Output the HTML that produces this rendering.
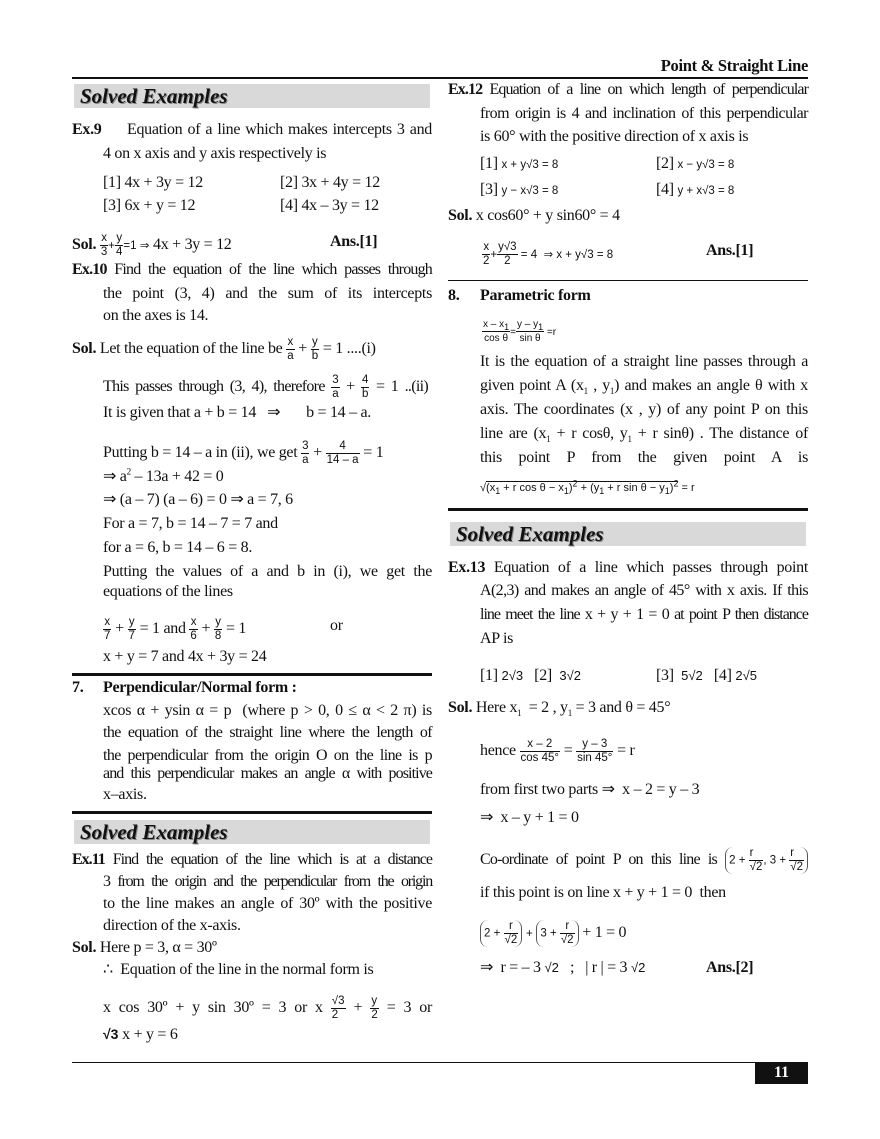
<!DOCTYPE html>
<html><head><meta charset="utf-8"><style>
body{margin:0;background:#fff;}
#p{position:relative;width:880px;height:1139px;overflow:hidden;font-family:"Liberation Serif",serif;color:#111;}
.t{position:absolute;white-space:nowrap;font-size:16px;line-height:20px;letter-spacing:-0.3px;}
.j{white-space:normal;text-align:justify;text-align-last:justify;height:20px;overflow:visible;}
.b{font-weight:bold;}
.s{font-family:"Liberation Sans",sans-serif;font-size:11.5px;letter-spacing:0;}
.f{display:inline-block;vertical-align:middle;text-align:center;font-family:"Liberation Sans",sans-serif;font-size:11.5px;line-height:13px;letter-spacing:0;}
.f>span{display:block;padding:0 1px;}
.f>span:first-child{border-bottom:1px solid #111;}
.ln{position:absolute;background:#111;}
.ban{position:absolute;background:#d9d9d9;height:24px;font-weight:bold;font-style:italic;font-size:21px;line-height:24px;padding-left:6px;box-sizing:border-box;text-shadow:1px 1px 0 #888;}
.par{display:inline-block;vertical-align:middle;border:1px solid #555;border-top:none;border-bottom:none;border-radius:8px;padding:0 3px;}
sub,sup{font-size:9px;line-height:0;}
</style></head><body><div id="p">
<div class="t b" style="left:640px;top:56px;width:168px;text-align:right;font-size:16.5px">Point &amp; Straight Line</div>
<div class="ln" style="left:72px;top:77px;width:736px;height:2px"></div>

<div class="ban" style="left:74px;top:84px;width:356px">Solved Examples</div>
<div class="t" style="left:72px;top:120px"><b>Ex.9</b></div>
<div class="t j" style="left:127px;top:120px;width:305px">Equation of a line which makes intercepts 3 and</div>
<div class="t" style="left:103px;top:144px">4 on x axis and y axis respectively is</div>
<div class="t" style="left:103px;top:173px">[1] 4x + 3y = 12</div>
<div class="t" style="left:280px;top:173px">[2] 3x + 4y = 12</div>
<div class="t" style="left:103px;top:196px">[3] 6x + y = 12</div>
<div class="t" style="left:280px;top:196px">[4] 4x – 3y = 12</div>
<div class="t" style="left:72px;top:232px"><b>Sol.</b> <span class="f"><span>x</span><span>3</span></span><span class="s">+</span><span class="f"><span>y</span><span>4</span></span><span class="s">=1 ⇒</span> 4x + 3y = 12</div>
<div class="t b" style="left:330px;top:232px">Ans.[1]</div>
<div class="t j" style="left:72px;top:260px;width:360px;letter-spacing:-0.8px"><b>Ex.10</b> Find the equation of the line which passes through</div>
<div class="t j" style="left:103px;top:284px;width:329px">the point (3, 4) and the sum of its intercepts</div>
<div class="t" style="left:103px;top:306px">on the axes is 14.</div>
<div class="t" style="left:72px;top:336px"><b>Sol.</b> Let the equation of the line be <span class="f"><span>x</span><span>a</span></span> + <span class="f"><span>y</span><span>b</span></span> = 1 ....(i)</div>
<div class="t j" style="left:103px;top:374px;width:325px;letter-spacing:-0.7px">This passes through (3, 4), therefore <span class="f"><span>3</span><span>a</span></span> + <span class="f"><span>4</span><span>b</span></span> = 1 ..(ii)</div>
<div class="t" style="left:103px;top:403px">It is given that a + b = 14 &nbsp;&nbsp;⇒ &nbsp;&nbsp;&nbsp;&nbsp;&nbsp;&nbsp;b = 14 – a.</div>
<div class="t" style="left:103px;top:440px">Putting b = 14 – a in (ii), we get <span class="f"><span>3</span><span>a</span></span> + <span class="f"><span>&nbsp;&nbsp;4&nbsp;&nbsp;</span><span>14 – a</span></span> = 1</div>
<div class="t" style="left:103px;top:467px">⇒ a<sup>2</sup> – 13a + 42 = 0</div>
<div class="t" style="left:103px;top:490px">⇒ (a – 7) (a – 6) = 0 ⇒ a = 7, 6</div>
<div class="t" style="left:103px;top:514px">For a = 7, b = 14 – 7 = 7 and</div>
<div class="t" style="left:103px;top:538px">for a = 6, b = 14 – 6 = 8.</div>
<div class="t j" style="left:103px;top:562px;width:329px">Putting the values of a and b in (i), we get the</div>
<div class="t" style="left:103px;top:582px">equations of the lines</div>
<div class="t" style="left:103px;top:616px"><span class="f"><span>x</span><span>7</span></span> + <span class="f"><span>y</span><span>7</span></span> = 1 and <span class="f"><span>x</span><span>6</span></span> + <span class="f"><span>y</span><span>8</span></span> = 1</div>
<div class="t" style="left:330px;top:616px">or</div>
<div class="t" style="left:103px;top:647px">x + y = 7 and 4x + 3y = 24</div>
<div class="ln" style="left:72px;top:673px;width:360px;height:3px"></div>
<div class="t b" style="left:72px;top:678px">7.</div>
<div class="t b" style="left:103px;top:678px">Perpendicular/Normal form :</div>
<div class="t j" style="left:103px;top:701px;width:329px">xcos α + ysin α = p &nbsp;(where p &gt; 0, 0 ≤ α &lt; 2 π) is</div>
<div class="t j" style="left:103px;top:723px;width:329px;letter-spacing:-0.6px">the equation of the straight line where the length of</div>
<div class="t j" style="left:103px;top:746px;width:329px;letter-spacing:-0.6px">the perpendicular from the origin O on the line is p</div>
<div class="t j" style="left:103px;top:764px;width:329px;letter-spacing:-0.9px">and this perpendicular makes an angle α with positive</div>
<div class="t" style="left:103px;top:785px">x–axis.</div>
<div class="ln" style="left:72px;top:811px;width:360px;height:3px"></div>
<div class="ban" style="left:74px;top:820px;width:356px">Solved Examples</div>
<div class="t j" style="left:72px;top:850px;width:360px;letter-spacing:-1px"><b>Ex.11</b> Find the equation of the line which is at a distance</div>
<div class="t j" style="left:103px;top:872px;width:329px;letter-spacing:-1.2px">3 from the origin and the perpendicular from the origin</div>
<div class="t j" style="left:103px;top:894px;width:329px">to the line makes an angle of 30º with the positive</div>
<div class="t" style="left:103px;top:916px">direction of the x-axis.</div>
<div class="t" style="left:72px;top:938px"><b>Sol.</b> Here p = 3, α = 30º</div>
<div class="t" style="left:103px;top:960px">∴ &nbsp;Equation of the line in the normal form is</div>
<div class="t j" style="left:103px;top:995px;width:329px">x cos 30º + y sin 30º = 3 or x <span class="f"><span>√3</span><span>2</span></span> + <span class="f"><span>y</span><span>2</span></span> = 3 or</div>
<div class="t" style="left:103px;top:1024px"><b class="s" style="font-size:14px">√3</b> x + y = 6</div>

<div class="t j" style="left:448px;top:80px;width:360px;letter-spacing:-0.9px"><b>Ex.12</b> Equation of a line on which length of perpendicular</div>
<div class="t j" style="left:480px;top:104px;width:328px;letter-spacing:-0.5px">from origin is 4 and inclination of this perpendicular</div>
<div class="t" style="left:480px;top:127px">is 60° with the positive direction of x axis is</div>
<div class="t" style="left:480px;top:154px">[1] <span class="s">x + y√3 = 8</span></div>
<div class="t" style="left:656px;top:154px">[2] <span class="s">x − y√3 = 8</span></div>
<div class="t" style="left:480px;top:180px">[3] <span class="s">y − x√3 = 8</span></div>
<div class="t" style="left:656px;top:180px">[4] <span class="s">y + x√3 = 8</span></div>
<div class="t" style="left:448px;top:206px"><b>Sol.</b> x cos60° + y sin60° = 4</div>
<div class="t" style="left:482px;top:241px"><span class="f"><span>x</span><span>2</span></span><span class="s">+</span><span class="f"><span>y√3</span><span>2</span></span><span class="s"> = 4 &nbsp;⇒ x + y√3 = 8</span></div>
<div class="t b" style="left:706px;top:241px">Ans.[1]</div>
<div class="ln" style="left:448px;top:280px;width:360px;height:1px"></div>
<div class="t b" style="left:448px;top:286px">8.</div>
<div class="t b" style="left:480px;top:286px">Parametric form</div>
<div class="t" style="left:482px;top:318px"><span class="f" style="font-size:10px"><span>x – x<sub>1</sub></span><span>cos θ</span></span><span class="s" style="font-size:10px">=</span><span class="f" style="font-size:10px"><span>y – y<sub>1</sub></span><span>sin θ</span></span><span class="s" style="font-size:10px"> =r</span></div>
<div class="t j" style="left:480px;top:352px;width:328px">It is the equation of a straight line passes through a</div>
<div class="t j" style="left:480px;top:376px;width:328px">given point A (x<sub>1</sub> , y<sub>1</sub>) and makes an angle θ with x</div>
<div class="t j" style="left:480px;top:400px;width:328px">axis. The coordinates (x , y) of any point P on this</div>
<div class="t j" style="left:480px;top:424px;width:328px">line are (x<sub>1</sub> + r cosθ, y<sub>1</sub> + r sinθ) . The distance of</div>
<div class="t j" style="left:480px;top:448px;width:328px">this point P from the given point A is</div>
<div class="t s" style="left:480px;top:478px;font-size:11px">√<span style="border-top:1px solid #111">(x<sub>1</sub> + r cos θ − x<sub>1</sub>)<sup>2</sup> + (y<sub>1</sub> + r sin θ − y<sub>1</sub>)<sup>2</sup></span> = r</div>
<div class="ln" style="left:448px;top:508px;width:360px;height:3px"></div>
<div class="ban" style="left:450px;top:522px;width:356px">Solved Examples</div>
<div class="t j" style="left:448px;top:558px;width:360px"><b>Ex.13</b> Equation of a line which passes through point</div>
<div class="t j" style="left:480px;top:581px;width:328px;letter-spacing:-0.6px">A(2,3) and makes an angle of 45° with x axis. If this</div>
<div class="t j" style="left:480px;top:605px;width:328px;letter-spacing:-1px">line meet the line x + y + 1 = 0 at point P then distance</div>
<div class="t" style="left:480px;top:629px">AP is</div>
<div class="t" style="left:480px;top:666px">[1] <span class="s" style="font-size:13px">2√3</span> &nbsp;&nbsp;[2] &nbsp;<span class="s" style="font-size:13px">3√2</span></div>
<div class="t" style="left:656px;top:666px">[3] &nbsp;<span class="s" style="font-size:13px">5√2</span> &nbsp;&nbsp;[4] <span class="s" style="font-size:13px">2√5</span></div>
<div class="t" style="left:448px;top:698px"><b>Sol.</b> Here x<sub>1</sub> &nbsp;= 2 , y<sub>1</sub> = 3 and θ = 45°</div>
<div class="t" style="left:480px;top:738px">hence <span class="f"><span>x – 2</span><span>cos 45°</span></span> = <span class="f"><span>y – 3</span><span>sin 45°</span></span> = r</div>
<div class="t" style="left:480px;top:780px">from first two parts ⇒ &nbsp;x – 2 = y – 3</div>
<div class="t" style="left:480px;top:808px">⇒ &nbsp;x – y + 1 = 0</div>
<div class="t j" style="left:480px;top:847px;width:328px;letter-spacing:-0.8px">Co-ordinate of point P on this line is <span class="par s">2 + <span class="f"><span>r</span><span>√2</span></span>, 3 + <span class="f"><span>r</span><span>√2</span></span></span></div>
<div class="t" style="left:480px;top:883px">if this point is on line x + y + 1 = 0 &nbsp;then</div>
<div class="t" style="left:480px;top:920px"><span class="par s">2 + <span class="f"><span>r</span><span>√2</span></span></span> <span class="s">+</span> <span class="par s">3 + <span class="f"><span>r</span><span>√2</span></span></span> + 1 = 0</div>
<div class="t" style="left:480px;top:958px">⇒ &nbsp;r = – 3 <span class="s" style="font-size:13px">√2</span> &nbsp;&nbsp;; &nbsp;&nbsp;| r | = 3 <span class="s" style="font-size:13px">√2</span></div>
<div class="t b" style="left:706px;top:958px">Ans.[2]</div>

<div class="ln" style="left:72px;top:1062px;width:736px;height:1px"></div>
<div style="position:absolute;left:755px;top:1062px;width:53px;height:22px;background:#111;color:#fff;font-weight:bold;font-size:16px;line-height:22px;text-align:center">11</div>
</div></body></html>
